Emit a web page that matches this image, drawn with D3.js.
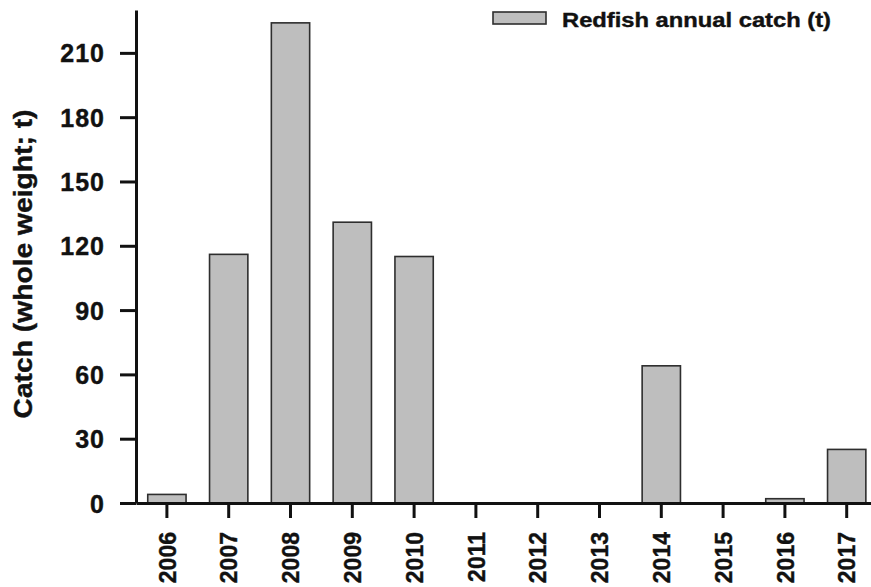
<html>
    <head>
        <meta charset="utf-8">
        <script src="https://d3js.org/d3.v7.min.js"></script>
        <title>Redfish catch</title>
        <style>
            body { margin: 0; background: white; }
            text { font-family: "Liberation Sans", Arial, sans-serif; font-weight: bold;
                   fill: #111; stroke: #111; stroke-width: 0.4px; }
        </style>
    </head>
    <body>
        <svg id="chart"></svg>
        <script>
            // data
            let years = ["2006", "2007", "2008", "2009", "2010", "2011",
                         "2012", "2013", "2014", "2015", "2016", "2017"];
            let catchValues = [4, 116, 224, 131, 115, 0, 0, 0, 64, 0, 2, 25];
            let yTicks = [0, 30, 60, 90, 120, 150, 180, 210];
            let legendLabel = "Redfish annual catch (t)";
            let yTitle = "Catch (whole weight; t)";

            let data = years.map((y, i) => ({'year': y, 'value': catchValues[i]}));

            const width = 871;
            const height = 587;
            let svg = d3.select("svg#chart")
                        .attr("width", width)
                        .attr("height", height);

            const barFill = "#bebebe";
            const barStroke = "#2e2e2e";

            // scales
            const xScale = d3.scaleBand()
                             .domain(years)
                             .range([136, 877.6])
                             .paddingInner(0.38)
                             .paddingOuter(0.19);

            const yScale = d3.scaleLinear()
                             .domain([0, 230])
                             .range([503, 10]);

            // bars
            svg.selectAll('rect.bar').data(data.filter(d => d['value'] > 0))
                .join('rect')
                .attr('class', 'bar')
                .attr('x', d => xScale(d['year']))
                .attr('y', d => yScale(d['value']))
                .attr('width', xScale.bandwidth())
                .attr('height', d => yScale(0) - yScale(d['value']))
                .style('fill', barFill)
                .style('stroke', barStroke)
                .style('stroke-width', 1.6);

            // y axis
            let yAxis = svg.append('g')
                .attr('transform', 'translate(136,0)')
                .call(d3.axisLeft(yScale)
                        .tickValues(yTicks)
                        .tickSize(16)
                        .tickSizeOuter(0)
                        .tickPadding(15));
            yAxis.selectAll('path, line').style('stroke', '#111').style('stroke-width', 3);
            yAxis.selectAll('text')
                 .style('font-size', '25px')
                 .style('letter-spacing', '1px')
                 .attr('dy', '0.36em');

            // x axis
            let xAxis = svg.append('g')
                .attr('transform', 'translate(0,503)')
                .call(d3.axisBottom(xScale)
                        .tickSize(15)
                        .tickSizeOuter(0));
            xAxis.selectAll('path, line').style('stroke', '#111').style('stroke-width', 3);
            xAxis.selectAll('text')
                 .style('font-size', '23px')
                 .attr('text-anchor', 'end')
                 .attr('transform', 'rotate(-90)')
                 .attr('x', -29)
                 .attr('y', 0)
                 .attr('dy', '0.38em');

            // y title
            svg.append('text')
               .attr('transform', 'translate(32,264) rotate(-90)')
               .attr('text-anchor', 'middle')
               .attr('textLength', 309)
               .attr('lengthAdjust', 'spacingAndGlyphs')
               .style('font-size', '25px')
               .text(yTitle);

            // legend
            svg.append('rect')
               .attr('x', 493)
               .attr('y', 12)
               .attr('width', 53)
               .attr('height', 12)
               .style('fill', barFill)
               .style('stroke', barStroke)
               .style('stroke-width', 1.6);

            svg.append('text')
               .attr('x', 562)
               .attr('y', 26.5)
               .attr('textLength', 269)
               .attr('lengthAdjust', 'spacingAndGlyphs')
               .style('font-size', '20px')
               .text(legendLabel);
        </script>
    </body>
</html>
